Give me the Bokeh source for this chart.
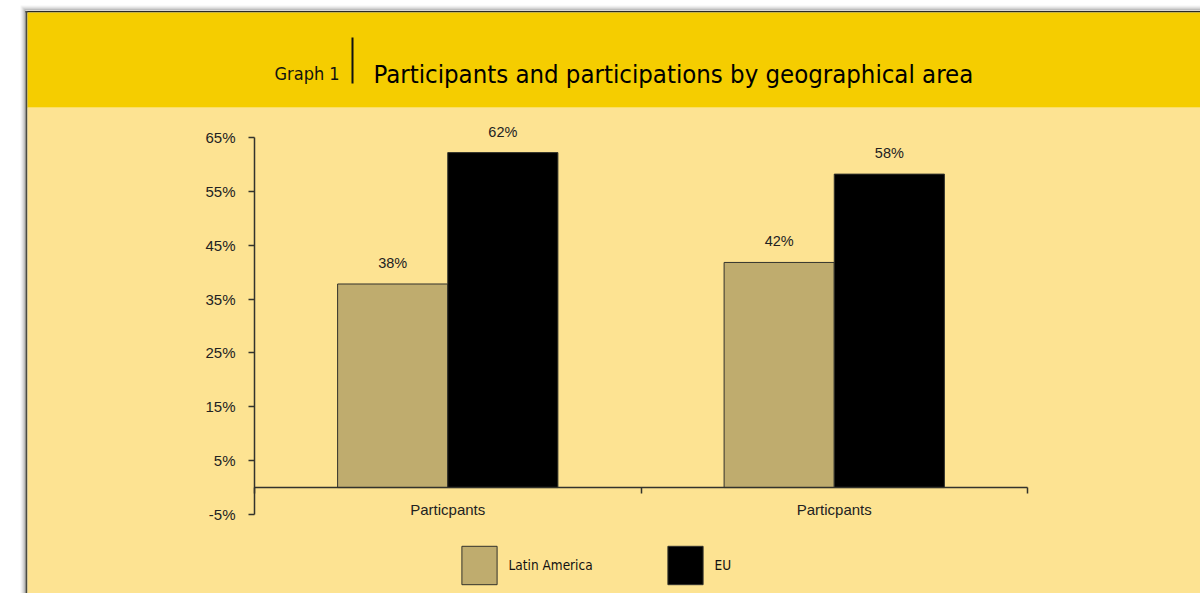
from bokeh.plotting import figure
from bokeh.models import Range1d, FixedTicker, Legend, LegendItem, ColumnDataSource, PrintfTickFormatter
from bokeh.transform import dodge
from bokeh.core.properties import value
from bokeh.embed import file_html
from bokeh.resources import INLINE

# ---------------- data ----------------
groups = ["Particpants", "Particpants"]
series_names = ["Latin America", "EU"]
latin_america = [37.8, 41.8]
eu = [62.2, 58.2]
latin_labels = ["38%", "42%"]
eu_labels = ["62%", "58%"]
y_ticks = [-5, 5, 15, 25, 35, 45, 55, 65]
title_prefix = "Graph  1"
title_text = "Participants and participations by geographical area"

# ---------------- style ----------------
W, H = 1200, 593
PAGE = "#ffffff"
HEAD = "#F5CD00"
BG = "#FDE392"
LA_COLOR = "#BFAC6E"
EU_COLOR = "#000000"
EDGE = "#33332c"
TITLE_FONT = "DejaVu Sans Condensed"
BODY_FONT = "Liberation Sans"

# plot-area placement (pixels on the page)
AX_L, AX_R, AX_T, AX_B = 254, 1027, 137, 514
Y_MIN, Y_MAX = -5, 65
n = len(groups)
ux = (AX_R - AX_L) / n
uy = (AX_B - AX_T) / (Y_MAX - Y_MIN)

p = figure(width=W, height=H,
           x_range=Range1d(-AX_L / ux, n + (W - AX_R) / ux),
           y_range=Range1d(Y_MIN - (H - AX_B) / uy, Y_MAX + AX_T / uy),
           output_backend="svg", toolbar_location=None, title=None, min_border=0)
p.grid.visible = False
p.outline_line_color = None
p.background_fill_color = PAGE
p.border_fill_color = PAGE
p.extra_x_ranges["px"] = Range1d(0, W)
p.extra_y_ranges["px"] = Range1d(H, 0)
PX = dict(x_range_name="px", y_range_name="px")

# ---------------- page decoration ----------------
shade = [0.04, 0.08, 0.14, 0.22, 0.32]
for i, a in enumerate(shade):
    p.quad(left=[20 + i], right=[21 + i], top=[6 + i], bottom=[H], fill_color="#000000",
           fill_alpha=a, line_color=None, **PX)
    p.quad(left=[20 + i], right=[W], top=[5 + i], bottom=[6 + i], fill_color="#000000",
           fill_alpha=a, line_color=None, **PX)
p.quad(left=[25], right=[W], top=[10.5], bottom=[12], fill_color="#2a2a24", line_color=None, **PX)
p.quad(left=[25], right=[27], top=[10.5], bottom=[H], fill_color="#4a4a40", line_color=None, **PX)
p.quad(left=[27], right=[W], top=[107], bottom=[H], fill_color=BG, line_color=None, **PX)
p.quad(left=[27], right=[W], top=[12], bottom=[107], fill_color=HEAD, line_color=None, **PX)
p.text(x=[274], y=[73], text=[title_prefix], text_font=value(TITLE_FONT), text_font_size="18px",
       text_baseline="alphabetic", text_align="left", text_color="#111111", **PX)
p.segment(x0=[352], y0=[37], x1=[352], y1=[83], line_color="#111111", line_width=2, **PX)
p.text(x=[373], y=[73], text=[title_text], text_font=value(TITLE_FONT), text_font_size="25.5px",
       text_baseline="alphabetic", text_align="left", text_color="#000000", **PX)

# ---------------- bars ----------------
src = ColumnDataSource(dict(x=[i + 0.5 for i in range(n)], la=latin_america, eu=eu,
                            la_lbl=latin_labels, eu_lbl=eu_labels))
off = 0.1425
bw = 0.285
r_la = p.vbar(x=dodge("x", -off, range=p.x_range), top="la", bottom=0, width=bw, source=src,
              fill_color=LA_COLOR, line_color=EDGE, line_width=1)
r_eu = p.vbar(x=dodge("x", off, range=p.x_range), top="eu", bottom=0, width=bw, source=src,
              fill_color=EU_COLOR, line_color=EDGE, line_width=1)
p.text(x=dodge("x", -off, range=p.x_range), y="la", text="la_lbl", source=src, text_align="center",
       text_baseline="bottom", y_offset=-13, text_font=value(BODY_FONT), text_font_size="14.5px",
       text_color="#222222")
p.text(x=dodge("x", off, range=p.x_range), y="eu", text="eu_lbl", source=src, text_align="center",
       text_baseline="bottom", y_offset=-13, text_font=value(BODY_FONT), text_font_size="14.5px",
       text_color="#222222")

# ---------------- axes ----------------
ya = p.yaxis[0]
ya.fixed_location = 0
ya.bounds = (Y_MIN, Y_MAX)
ya.ticker = FixedTicker(ticks=y_ticks)
ya.formatter = PrintfTickFormatter(format="%d%%")
ya.axis_line_color = EDGE
ya.axis_line_width = 1.5
ya.major_tick_line_color = EDGE
ya.major_tick_line_width = 1.5
ya.major_tick_out = 6
ya.major_tick_in = 0
ya.minor_tick_line_color = None
ya.major_label_standoff = 13
ya.major_label_text_font = BODY_FONT
ya.major_label_text_font_size = "15px"
ya.major_label_text_color = "#222222"

xa = p.xaxis[0]
xa.fixed_location = 0
xa.bounds = (0, n)
xa.ticker = FixedTicker(ticks=[i + 0.5 for i in range(n)],
                        minor_ticks=[float(i) for i in range(n + 1)])
xa.major_label_overrides = {i + 0.5: g for i, g in enumerate(groups)}
xa.axis_line_color = EDGE
xa.axis_line_width = 1.5
xa.major_tick_line_color = None
xa.major_tick_out = 0
xa.major_tick_in = 0
xa.minor_tick_line_color = EDGE
xa.minor_tick_line_width = 1.5
xa.minor_tick_out = 6
xa.minor_tick_in = 0
xa.major_label_standoff = 7
xa.major_label_text_font = BODY_FONT
xa.major_label_text_font_size = "15px"
xa.major_label_text_color = "#222222"

# ---------------- legend ----------------
legend = Legend(items=[LegendItem(label=series_names[0], renderers=[r_la]),
                       LegendItem(label=series_names[1], renderers=[r_eu])],
                orientation="horizontal", location=(456.6, 4.2), glyph_width=44, glyph_height=48,
                label_standoff=8, label_width=90, label_height=44, spacing=64, padding=0, margin=0,
                border_line_color=None, background_fill_alpha=0,
                label_text_font=TITLE_FONT, label_text_font_size="13.5px",
                label_text_baseline="middle", label_text_color="#111111")
p.add_layout(legend)

open("out.html", "w").write(file_html(p, INLINE))
